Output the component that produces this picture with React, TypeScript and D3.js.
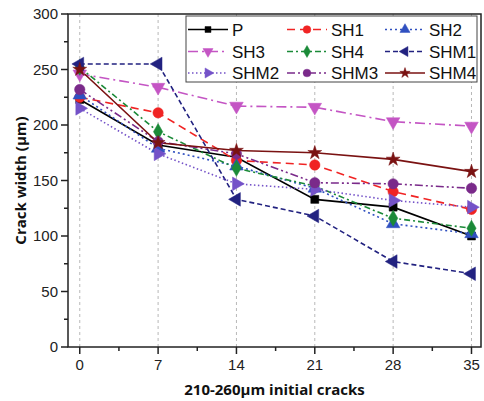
import React from "react";
import * as d3 from "d3";

// days after cracking
const days = [0, 7, 14, 21, 28, 35];

const seriesNames = ["P", "SH1", "SH2", "SH3", "SH4", "SHM1", "SHM2", "SHM3", "SHM4"];

const P = [223, 182, 171, 133, 126, 100];
const SH1 = [225, 211, 168, 164, 140, 124];
const SH2 = [227, 179, 163, 143, 111, 102];
const SH3 = [246, 234, 217, 216, 203, 199];
const SH4 = [252, 194, 161, 145, 116, 107];
const SHM1 = [255, 255, 133, 118, 77, 66];
const SHM2 = [215, 174, 147, 142, 132, 126];
const SHM3 = [232, 185, 174, 148, 147, 143];
const SHM4 = [250, 184, 177, 175, 169, 158];

const yTicks = [0, 50, 100, 150, 200, 250, 300];
const xTicks = [0, 7, 14, 21, 28, 35];

const values: Record<string, number[]> = { P, SH1, SH2, SH3, SH4, SHM1, SHM2, SHM3, SHM4 };

// style per series: colour, dash, marker kind
const styles: Record<string, { color: string; dash: string; marker: string }> = {
  P: { color: "#000000", dash: "", marker: "square" },
  SH1: { color: "#f02424", dash: "8,5", marker: "circle" },
  SH2: { color: "#3050c0", dash: "2,3", marker: "up" },
  SH3: { color: "#c455c4", dash: "10,4,2,4", marker: "down" },
  SH4: { color: "#1b8a38", dash: "6,3,2,3", marker: "diamond" },
  SHM1: { color: "#222280", dash: "5,3", marker: "left" },
  SHM2: { color: "#7452c8", dash: "1.5,2.5", marker: "right" },
  SHM3: { color: "#7a2a8a", dash: "8,3,2,3,2,3", marker: "circle" },
  SHM4: { color: "#7a1212", dash: "", marker: "star" },
};

const W = 484;
const H = 401;
const left = 68;
const right = 481;
const top = 14;
const bottom = 347;

function Marker({ kind, x, y, color, k = 1 }: { kind: string; x: number; y: number; color: string; k?: number }) {
  let path = "";
  let rot = 0;
  if (kind === "square") path = d3.symbol(d3.symbolSquare, 64 * k)()!;
  else if (kind === "circle") path = d3.symbol(d3.symbolCircle, 85 * k)()!;
  else if (kind === "diamond") path = d3.symbol(d3.symbolDiamond, 75 * k)()!;
  else if (kind === "star") path = d3.symbol(d3.symbolStar, 60 * k)()!;
  else {
    path = d3.symbol(d3.symbolTriangle, 80 * k)()!;
    rot = kind === "down" ? 180 : kind === "left" ? -90 : kind === "right" ? 90 : 0;
  }
  return (
    <path
      d={path}
      transform={`translate(${x},${y}) rotate(${rot})`}
      fill={color}
      stroke={color}
      strokeWidth={0.5}
    />
  );
}

export default function App() {
  const x = d3.scaleLinear().domain([-1.05, 35.85]).range([left, right]);
  const y = d3.scaleLinear().domain([0, 300]).range([bottom, top]);

  const line = d3
    .line<number>()
    .x((_, i) => x(days[i]))
    .y((v) => y(v));

  const xMinor = d3.range(0, 35, 3.5).filter((v) => v % 7 !== 0);
  const yMinor = d3.range(25, 300, 50);

  const legendCols = [188, 287, 385];
  const legendRows = [29.5, 51.5, 73];

  return (
    <svg
      width={W}
      height={H}
      style={{ position: "absolute", left: 0, top: 0, background: "#fff" }}
      fontFamily="'Liberation Sans', Arial, sans-serif"
    >
      {/* vertical grid */}
      {xTicks.map((t) => (
        <line
          key={"g" + t}
          x1={x(t)}
          x2={x(t)}
          y1={top}
          y2={bottom}
          stroke="#b8b8b8"
          strokeWidth={1}
          strokeDasharray="3,3"
        />
      ))}

      {/* series */}
      {seriesNames.map((name) => (
        <path
          key={"l" + name}
          d={line(values[name])!}
          fill="none"
          stroke={styles[name].color}
          strokeWidth={1.6}
          strokeDasharray={styles[name].dash}
        />
      ))}
      {seriesNames.map((name) =>
        values[name].map((v, i) => (
          <Marker
            key={name + i}
            kind={styles[name].marker}
            x={x(days[i])}
            y={y(v)}
            color={styles[name].color}
          />
        ))
      )}

      {/* frame */}
      <rect
        x={left}
        y={top}
        width={right - left}
        height={bottom - top}
        fill="none"
        stroke="#222"
        strokeWidth={1.5}
      />

      {/* y axis */}
      {yTicks.map((t) => (
        <g key={"y" + t}>
          <line x1={left - 7} x2={left} y1={y(t)} y2={y(t)} stroke="#222" strokeWidth={1.5} />
          <text x={left - 10} y={y(t)} dy="0.35em" textAnchor="end" fontSize={15} fill="#222">
            {t}
          </text>
        </g>
      ))}
      {yMinor.map((t) => (
        <line key={"ym" + t} x1={left - 4} x2={left} y1={y(t)} y2={y(t)} stroke="#222" strokeWidth={1.5} />
      ))}

      {/* x axis */}
      {xTicks.map((t) => (
        <g key={"x" + t}>
          <line x1={x(t)} x2={x(t)} y1={bottom} y2={bottom + 7} stroke="#222" strokeWidth={1.5} />
          <text x={x(t)} y={bottom + 23} textAnchor="middle" fontSize={15} fill="#222">
            {t}
          </text>
        </g>
      ))}
      {xMinor.map((t) => (
        <line key={"xm" + t} x1={x(t)} x2={x(t)} y1={bottom} y2={bottom + 4} stroke="#222" strokeWidth={1.5} />
      ))}

      {/* axis titles */}
      <text
        x={(left + right) / 2}
        y={395}
        textAnchor="middle"
        fontSize={15}
        fontWeight="bold"
        fontFamily="'Open Sans', sans-serif"
        fill="#111"
      >
        210-260μm initial cracks
      </text>
      <text
        transform={`translate(26,${(top + bottom) / 2}) rotate(-90)`}
        textAnchor="middle"
        fontSize={15}
        fontWeight="bold"
        fontFamily="'Open Sans', sans-serif"
        fill="#111"
      >
        Crack width (μm)
      </text>

      {/* legend */}
      <rect x={186} y={16} width={291} height={66} fill="#fff" stroke="#444" strokeWidth={1} />
      {seriesNames.map((name, i) => {
        const cx = legendCols[i % 3];
        const cy = legendRows[Math.floor(i / 3)];
        const st = styles[name];
        return (
          <g key={"lg" + name}>
            <line
              x1={cx}
              x2={cx + 40}
              y1={cy}
              y2={cy}
              stroke={st.color}
              strokeWidth={1.6}
              strokeDasharray={st.dash}
            />
            <Marker kind={st.marker} x={cx + 20} y={cy} color={st.color} k={0.55} />
            <text x={cx + 44} y={cy} dy="0.36em" fontSize={17} fill="#111">
              {name}
            </text>
          </g>
        );
      })}
    </svg>
  );
}
